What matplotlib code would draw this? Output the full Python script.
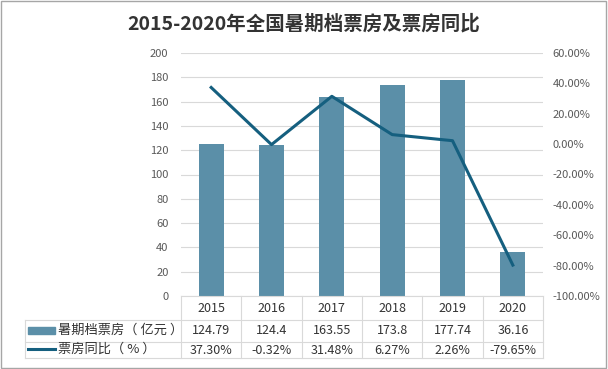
import matplotlib.pyplot as plt
from matplotlib.lines import Line2D
from matplotlib.patches import Rectangle
from matplotlib.ticker import FuncFormatter
import numpy as np

plt.rcParams['font.family'] = ['Noto Sans CJK SC', 'DejaVu Sans']

years = ['2015', '2016', '2017', '2018', '2019', '2020']
box_office = [124.79, 124.4, 163.55, 173.8, 177.74, 36.16]
yoy = [37.30, -0.32, 31.48, 6.27, 2.26, -79.65]
box_labels = ['124.79', '124.4', '163.55', '173.8', '177.74', '36.16']
yoy_labels = ['37.30%', '-0.32%', '31.48%', '6.27%', '2.26%', '-79.65%']
bar_name = '暑期档票房（ 亿元 ）'
line_name = '票房同比（ % ）'
title = '2015-2020年全国暑期档票房及票房同比'

bar_color = '#5b8fa8'
line_color = '#155f7f'
grid_color = '#d9d9d9'
tick_color = '#595959'

W, H = 608, 369
fig = plt.figure(figsize=(W / 100, H / 100), dpi=100)

def fx(px):
    return px / W

def fy(py):
    return 1 - py / H

x0, x1, ytop, ybot = 181, 543, 53, 296
ax = fig.add_axes([fx(x0), fy(ybot), fx(x1) - fx(x0), fy(ytop) - fy(ybot)])
x = np.arange(len(years))
ax.bar(x, box_office, width=0.41, color=bar_color, zorder=2)
ax.set_xlim(-0.5, len(years) - 0.5)
ax.set_ylim(0, 200)
ax.set_yticks(np.arange(0, 201, 20))
ax.grid(axis='y', color=grid_color, linewidth=0.8, zorder=0)
ax.set_xticks([])
for s in ['top', 'right', 'left']:
    ax.spines[s].set_visible(False)
ax.spines['bottom'].set_color(grid_color)
ax.tick_params(axis='y', length=0, pad=9, labelsize=8, labelcolor=tick_color)

ax2 = ax.twinx()
ax2.plot(x, yoy, color=line_color, linewidth=2.2, zorder=3)
ax2.set_ylim(-100, 60)
ax2.set_yticks(np.arange(-100, 61, 20))
ax2.yaxis.set_major_formatter(FuncFormatter(lambda v, p: f'{v:.2f}%'))
ax2.tick_params(axis='y', length=0, pad=7, labelsize=8, labelcolor=tick_color)
for s in ax2.spines.values():
    s.set_visible(False)

# title
fig.text(0.5, fy(24), title, ha='center', va='center', fontsize=14,
         fontweight='bold', color='#333333')

# data table below the axes
tab_left = 25
row_y = [296, 320, 342, 358]
col_w = (x1 - x0) / len(years)
for yy in row_y[1:]:
    fig.add_artist(Line2D([fx(tab_left), fx(x1)], [fy(yy), fy(yy)],
                          color=grid_color, linewidth=0.8))
fig.add_artist(Line2D([fx(tab_left), fx(tab_left)], [fy(row_y[1]), fy(row_y[3])],
                      color=grid_color, linewidth=0.8))
for i in range(len(years) + 1):
    xx = x0 + i * col_w
    fig.add_artist(Line2D([fx(xx), fx(xx)], [fy(row_y[0]), fy(row_y[3])],
                          color=grid_color, linewidth=0.8))

for i in range(len(years)):
    cx = fx(x0 + (i + 0.5) * col_w)
    fig.text(cx, fy(308), years[i], ha='center', va='center', fontsize=9, color='#333333')
    fig.text(cx, fy(331), box_labels[i], ha='center', va='center', fontsize=9, color='#333333')
    fig.text(cx, fy(350), yoy_labels[i], ha='center', va='center', fontsize=9, color='#333333')

fig.add_artist(Rectangle((fx(28), fy(334)), fx(55) - fx(28), fy(327) - fy(334),
                         color=bar_color))
fig.add_artist(Line2D([fx(28), fx(55)], [fy(349), fy(349)], color=line_color, linewidth=2.2))
fig.text(fx(58), fy(330), bar_name, ha='left', va='center', fontsize=9.5, color='#333333')
fig.text(fx(58), fy(349), line_name, ha='left', va='center', fontsize=9.5, color='#333333')

# outer border
fig.add_artist(Rectangle((0.002, 0.003), 0.995, 0.994, fill=False,
                         edgecolor='#a6a6a6', linewidth=1))

fig.savefig('out.png', dpi=100)
